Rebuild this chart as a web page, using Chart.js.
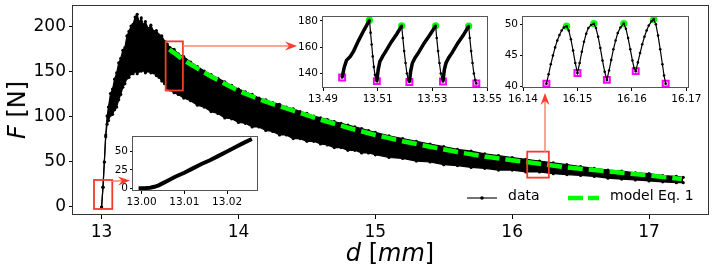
<!DOCTYPE html>
<html>
<head>
<meta charset="utf-8">
<script src="https://cdn.jsdelivr.net/npm/chart.js@4"></script>
<style>
body { margin: 0; background: #fff; }
#wrap { position: relative; width: 714px; height: 271px; font-family: 'DejaVu Sans', sans-serif; overflow: hidden; }
#wrap canvas { position: absolute; }
.lbl { position: absolute; color: #000; white-space: nowrap; line-height: 1; }
</style>
</head>
<body>
<div id="wrap">
  <canvas id="main" width="714" height="271" style="left:0;top:0"></canvas>
  <canvas id="in1"></canvas>
  <canvas id="in2"></canvas>
  <canvas id="in3"></canvas>
  <div class="lbl" style="font-size:24px; left:17px; top:110px; transform: translate(-50%,-50%) rotate(-90deg);"><i>F</i> [N]</div>
  <div class="lbl" style="font-size:24px; left:390px; top:253px; transform: translate(-50%,-50%);"><i>d</i> [<i>mm</i>]</div>
  <div class="lbl" style="left:467px; top:190px;"><svg width="30" height="10"><line x1="0" y1="5" x2="30" y2="5" stroke="#444" stroke-width="1.5"/><circle cx="15" cy="5" r="1.8" fill="#000"/></svg></div>
  <div class="lbl" style="font-size:14px; left:508px; top:195px; transform: translateY(-50%);">data</div>
  <div class="lbl" style="left:568px; top:190px;"><svg width="31" height="10"><line x1="0" y1="5" x2="31" y2="5" stroke="#00ff00" stroke-width="4.5" stroke-dasharray="15 5"/></svg></div>
  <div class="lbl" style="font-size:14px; left:610px; top:195px; transform: translateY(-50%);">model Eq. 1</div>
</div>
<script>
// main force curve: upper and lower edge of the oscillating band
const dBand = [13.000, 13.010, 13.020, 13.030, 13.040, 13.050, 13.065, 13.080, 13.095, 13.110,
  13.125, 13.140, 13.155, 13.170, 13.185, 13.200, 13.215, 13.230, 13.245, 13.260,
  13.275, 13.290, 13.305, 13.320, 13.340, 13.360, 13.380, 13.400, 13.420, 13.440,
  13.460, 13.480, 13.500, 13.530, 13.560, 13.600, 13.650, 13.700, 13.750, 13.800,
  13.850, 13.900, 13.950, 14.000, 14.050, 14.100, 14.150, 14.200, 14.250, 14.300,
  14.350, 14.400, 14.450, 14.500, 14.550, 14.600, 14.650, 14.700, 14.750, 14.800,
  14.850, 14.900, 14.950, 15.000, 15.100, 15.200, 15.300, 15.400, 15.500, 15.600,
  15.700, 15.800, 15.900, 16.000, 16.100, 16.200, 16.300, 16.400, 16.500, 16.600,
  16.700, 16.800, 16.900, 17.000, 17.100, 17.200, 17.250];
const fTop = [0, 22, 50, 80, 101, 111, 126, 131, 142, 149,
  160, 165, 174, 177, 190, 195, 201, 203, 211, 214,
  205, 210, 202, 206, 198, 202, 195, 196, 191, 190,
  184, 181, 177, 175, 170, 167, 161, 156, 151, 147,
  143, 139, 135, 131, 128, 125, 121, 119, 116, 114,
  111, 109, 106, 104, 101, 99, 97, 95, 93, 91,
  89, 87, 85, 83, 79, 76, 73, 70, 67, 64,
  62, 59, 57, 55, 53, 51, 49, 47, 45, 43,
  41, 40, 38, 37, 35, 34, 33];
const fBottom = [0, 22, 50, 78, 92, 96, 102, 103, 108, 111,
  119, 125, 133, 137, 143, 144, 148, 148, 151, 148,
  151, 151, 152, 149, 151, 149, 149, 146, 144, 140,
  137, 132, 130, 127, 125, 121, 118, 113, 111, 106,
  104, 99, 98, 94, 93, 89, 89, 85, 84, 80,
  80, 76, 76, 73, 73, 70, 69, 66, 66, 63,
  63, 60, 60, 58, 55, 54, 51, 50, 47, 46,
  44, 43, 41, 41, 39, 39, 37, 36, 35, 34,
  32, 31, 30, 29, 28, 27, 27];

// model Eq. 1
const dModel = [13.495, 13.55, 13.6, 13.7, 13.8, 13.9, 14.0, 14.2, 14.4, 14.6, 14.8, 15.0,
  15.2, 15.4, 15.6, 15.8, 16.0, 16.2, 16.4, 16.6, 16.8, 17.0, 17.24];
const fModel = [175, 169, 163, 154, 145, 137, 129, 117, 107, 97, 88, 80,
  73, 67, 61, 56, 52, 48, 44, 41, 38, 35, 31];

const xTicks = [13, 14, 15, 16, 17];
const yTicks = [0, 50, 100, 150, 200];

// zoom boxes and arrows (main axes units)
const boxD0 = [12.9445, 13.468, 16.110];
const boxD1 = [13.078, 13.594, 16.268];
const boxF0 = [-2.2, 129.4, 32.6];
const boxF1 = [30, 184, 61.5];
const arrD0 = [13.078, 13.594, 16.240];
const arrF0 = [28.5, 178.9, 61.5];
const arrD1 = [13.2075, 14.428, 16.240];
const arrF1 = [29.5, 178.9, 126.5];

// inset 1: onset of loading
const dIn1 = [12.9993, 13.000, 13.001, 13.002, 13.003, 13.004, 13.005, 13.006, 13.007, 13.008,
  13.010, 13.012, 13.014, 13.016, 13.018, 13.020, 13.022, 13.024, 13.0258];
const fIn1 = [0, 0, 0.3, 0.8, 2, 4, 7, 10, 13, 16, 21, 27, 33, 38, 44, 50, 56, 62, 67];

// inset 2: stick-slip near 13.5 mm
const dIn2 = [13.4970, 13.4978, 13.4986, 13.5000, 13.5012, 13.5030, 13.5050, 13.5070,
  13.5074, 13.5078, 13.5082, 13.5086, 13.5090, 13.5094, 13.5097,
  13.5102, 13.5108, 13.5118, 13.5130, 13.5150, 13.5170, 13.5188,
  13.5192, 13.5197, 13.5202, 13.5207, 13.5212, 13.5216,
  13.5221, 13.5227, 13.5237, 13.5250, 13.5270, 13.5290, 13.5312,
  13.5316, 13.5321, 13.5326, 13.5331, 13.5335, 13.5339,
  13.5344, 13.5350, 13.5360, 13.5373, 13.5393, 13.5413, 13.5433,
  13.5437, 13.5442, 13.5447, 13.5452, 13.5457, 13.5461];
const fIn2 = [137, 145, 150, 153, 157, 165, 173, 180.5,
  171, 162, 153, 145, 139, 135, 134.2,
  143, 149, 153, 157, 164, 170, 176.2,
  167, 157, 148, 140, 135, 133.5,
  142, 148, 152, 156, 163, 169, 176.2,
  167, 157, 148, 140, 136, 134,
  143, 148, 152, 156, 163, 169, 176,
  167, 157, 148, 140, 135, 132.5];
const dIn2Max = [13.5070, 13.5188, 13.5312, 13.5433];
const fIn2Max = [180.5, 176.2, 176.2, 176];
const dIn2Min = [13.4970, 13.5097, 13.5216, 13.5339, 13.5461];
const fIn2Min = [137, 134.2, 133.5, 134, 132.5];

// inset 3: oscillations near 16.15 mm
const dIn3 = [16.1443, 16.1447, 16.1451, 16.1455, 16.1459, 16.1463, 16.1467, 16.1471, 16.1475, 16.1480,
  16.1484, 16.1488, 16.1492, 16.1496, 16.1500,
  16.1504, 16.1508, 16.1512, 16.1516, 16.1520, 16.1525, 16.1530,
  16.1534, 16.1538, 16.1542, 16.1546, 16.1550, 16.1554,
  16.1558, 16.1562, 16.1566, 16.1570, 16.1574, 16.1579, 16.1585,
  16.1589, 16.1593, 16.1597, 16.1601, 16.1604, 16.1607,
  16.1611, 16.1615, 16.1619, 16.1623, 16.1627, 16.1631, 16.1636, 16.1640,
  16.1644, 16.1648, 16.1652, 16.1656, 16.1659, 16.1662];
const fIn3 = [40.5, 42.0, 43.6, 45.0, 46.3, 47.4, 48.3, 49.0, 49.5, 49.7,
  49.0, 47.6, 45.8, 43.8, 42.2,
  43.8, 45.6, 47.2, 48.5, 49.4, 49.9, 50.1,
  49.4, 48.0, 46.2, 44.2, 42.4, 41.1,
  42.6, 44.3, 46.0, 47.4, 48.6, 49.5, 50.1,
  49.3, 47.8, 46.0, 44.2, 43.0, 42.5,
  43.9, 45.4, 46.8, 48.0, 49.0, 49.8, 50.5, 50.8,
  50.0, 48.2, 46.0, 43.6, 41.8, 40.5];
const dIn3Max = [16.1480, 16.1530, 16.1585, 16.1640];
const fIn3Max = [49.7, 50.1, 50.1, 50.8];
const dIn3Min = [16.1443, 16.1500, 16.1554, 16.1607, 16.1662];
const fIn3Min = [40.5, 42.2, 41.1, 42.5, 40.5];

const FONT = "'DejaVu Sans', sans-serif";
const pts = (xs, ys) => xs.map((x, i) => ({ x: x, y: ys[i] }));

const framePlugin = {
  id: 'frame',
  beforeDraw(chart, args, opts) {
    if (!opts.fill) return;
    const a = chart.chartArea, ctx = chart.ctx;
    ctx.save();
    ctx.fillStyle = '#fff';
    ctx.fillRect(a.left, a.top, a.right - a.left, a.bottom - a.top);
    ctx.restore();
  },
  afterDraw(chart, args, opts) {
    const a = chart.chartArea, ctx = chart.ctx;
    ctx.save();
    ctx.strokeStyle = opts.color || '#333';
    ctx.lineWidth = 1;
    ctx.strokeRect(Math.round(a.left) - 0.5, Math.round(a.top) + 0.5,
      Math.round(a.right - a.left) + 1, Math.round(a.bottom - a.top) - 1);
    ctx.restore();
  }
};

const zoomPlugin = {
  id: 'zoomMarks',
  afterDatasetsDraw(chart) {
    const x = chart.scales.x, y = chart.scales.y, ctx = chart.ctx;
    ctx.save();
    ctx.strokeStyle = '#f23c2c';
    ctx.lineWidth = 1.8;
    boxD0.forEach((d0, i) => {
      const l = x.getPixelForValue(d0), r = x.getPixelForValue(boxD1[i]);
      const b = y.getPixelForValue(boxF0[i]), t = y.getPixelForValue(boxF1[i]);
      ctx.strokeRect(l, t, r - l, b - t);
    });
    arrD0.forEach((d0, i) => {
      const x0 = x.getPixelForValue(d0), y0 = y.getPixelForValue(arrF0[i]);
      const x1 = x.getPixelForValue(arrD1[i]), y1 = y.getPixelForValue(arrF1[i]);
      const ang = Math.atan2(y1 - y0, x1 - x0);
      const len = 12, hw = 4.5, notch = 8;
      ctx.strokeStyle = '#ff8478';
      ctx.lineWidth = 1.5;
      ctx.beginPath();
      ctx.moveTo(x0, y0);
      ctx.lineTo(x1 - notch * Math.cos(ang), y1 - notch * Math.sin(ang));
      ctx.stroke();
      ctx.fillStyle = '#ff3b2a';
      ctx.beginPath();
      ctx.moveTo(x1, y1);
      ctx.lineTo(x1 - len * Math.cos(ang) + hw * Math.sin(ang), y1 - len * Math.sin(ang) - hw * Math.cos(ang));
      ctx.lineTo(x1 - notch * Math.cos(ang), y1 - notch * Math.sin(ang));
      ctx.lineTo(x1 - len * Math.cos(ang) - hw * Math.sin(ang), y1 - len * Math.sin(ang) + hw * Math.cos(ang));
      ctx.closePath();
      ctx.fill();
    });
    ctx.restore();
  }
};

function axis(min, max, ticks, size, fmt, horizontal, thick) {
  return {
    type: 'linear', min: min, max: max,
    afterBuildTicks: s => { s.ticks = ticks.map(v => ({ value: v })); },
    afterFit: s => {
      if (horizontal) s.height = thick; else s.width = thick;
      s.paddingLeft = 0; s.paddingRight = 0; s.paddingTop = 0; s.paddingBottom = 0;
    },
    ticks: { font: { family: FONT, size: size }, color: '#000', padding: size > 12 ? 3 : 2,
      autoSkip: false, maxRotation: 0, callback: fmt },
    grid: { drawOnChartArea: false, drawTicks: true, tickLength: size > 12 ? 4 : 3, color: '#000' },
    border: { display: false }
  };
}

new Chart(document.getElementById('main'), {
  type: 'line',
  data: {
    datasets: [
      { data: pts(dModel, fModel), borderColor: '#00ff00', borderWidth: 4.5, borderDash: [15, 6],
        pointRadius: 0, fill: false, order: 0 },
      { data: pts(dBand, fTop), borderColor: '#000', borderWidth: 1.2, pointRadius: 1.6,
        pointBackgroundColor: '#000', pointBorderWidth: 0, fill: '+1', backgroundColor: '#000', order: 1 },
      { data: pts(dBand, fBottom), borderColor: '#000', borderWidth: 1.2, pointRadius: 1.6,
        pointBackgroundColor: '#000', pointBorderWidth: 0, fill: false, order: 2 }
    ]
  },
  options: {
    responsive: false, animation: false, events: [],
    layout: { padding: { top: 5, right: 6, left: 0, bottom: 0 } },
    plugins: { legend: { display: false }, tooltip: { enabled: false }, frame: { color: '#333' } },
    scales: {
      x: axis(12.791, 17.431, xTicks, 17, v => String(v), true, 56),
      y: axis(-8.9, 224.4, yTicks, 17, v => String(v), false, 73)
    }
  },
  plugins: [framePlugin, zoomPlugin]
});

function makeInset(id, box, m, xr, yr, xt, yt, xDigits, datasets) {
  const c = document.getElementById(id);
  c.width = box.r - box.l + m.l + m.r;
  c.height = box.b - box.t + m.t + m.b;
  c.style.left = (box.l - m.l) + 'px';
  c.style.top = (box.t - m.t) + 'px';
  new Chart(c, {
    type: 'line',
    data: { datasets: datasets },
    options: {
      responsive: false, animation: false, events: [],
      layout: { padding: { top: m.t, right: m.r, left: 0, bottom: 0 } },
      plugins: { legend: { display: false }, tooltip: { enabled: false }, frame: { fill: true, color: '#555' } },
      scales: {
        x: axis(xr[0], xr[1], xt, 10.5, v => v.toFixed(xDigits), true, m.b),
        y: axis(yr[0], yr[1], yt, 10.5, v => String(v), false, m.l)
      }
    },
    plugins: [framePlugin]
  });
}

const dotLine = (xs, ys, extra) => Object.assign({ data: pts(xs, ys), borderColor: '#000', borderWidth: 1.2,
  pointRadius: 1.3, pointBackgroundColor: '#000', pointBorderWidth: 0, fill: false, order: 0 }, extra || {});
const maxMarks = (xs, ys) => ({ data: pts(xs, ys), showLine: false, pointStyle: 'circle',
  pointRadius: 3.6, pointBackgroundColor: '#00ff00', pointBorderWidth: 0, order: 1 });
const minMarks = (xs, ys) => ({ data: pts(xs, ys), showLine: false, pointStyle: 'rect',
  pointRadius: 4.2, pointBackgroundColor: '#fbe6fb', pointBorderColor: '#ff00ff', pointBorderWidth: 2, order: 1 });

makeInset('in1', { l: 133, t: 136, r: 257, b: 191 }, { l: 24, t: 4, r: 6, b: 16 },
  [12.998, 13.027], [-3.7, 71], [13.00, 13.01, 13.02], [0, 25, 50], 2,
  [dotLine(dIn1, fIn1, { borderWidth: 4, pointRadius: 0 })]);

makeInset('in2', { l: 323, t: 16, r: 487, b: 88 }, { l: 30, t: 6, r: 16, b: 16 },
  [13.49, 13.55], [129, 183.5], [13.49, 13.51, 13.53, 13.55], [140, 160, 180], 2,
  [dotLine(dIn2, fIn2, { segment: { borderWidth: s => s.p1.parsed.y > s.p0.parsed.y ? 3.5 : 1.2 } }),
   maxMarks(dIn2Max, fIn2Max), minMarks(dIn2Min, fIn2Min)]);

makeInset('in3', { l: 523, t: 16, r: 688, b: 88 }, { l: 22, t: 6, r: 14, b: 16 },
  [16.14, 16.1703], [39.8, 51.3], [16.14, 16.15, 16.16, 16.17], [40, 45, 50], 2,
  [dotLine(dIn3, fIn3), maxMarks(dIn3Max, fIn3Max), minMarks(dIn3Min, fIn3Min)]);
</script>
</body>
</html>
